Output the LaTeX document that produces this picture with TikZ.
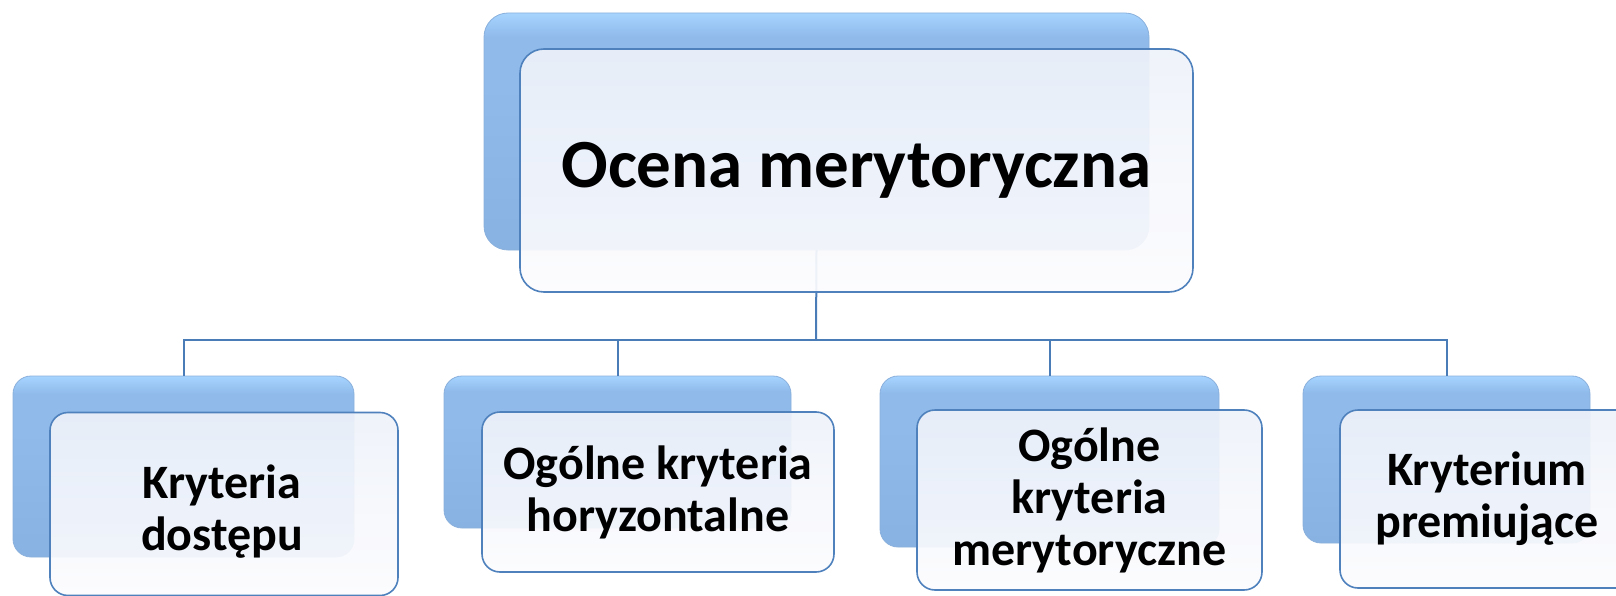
\documentclass[tikz,border=0pt]{standalone}
\usepackage{fontspec}
\setmainfont{Carlito}
\usepackage{tikz}
\definecolor{backtop}{HTML}{A6D4FF}
\definecolor{backmid}{HTML}{8FBAEA}
\definecolor{backbot}{HTML}{88B2E2}
\definecolor{backedge}{HTML}{8AB0DC}
\definecolor{fronttop}{HTML}{EEF2FA}
\definecolor{frontbot}{HTML}{FCFCFE}
\definecolor{frontedge}{HTML}{4F81BD}
\definecolor{linkcol}{HTML}{4A7DB8}
\pgfdeclareverticalshading{backshade}{100bp}{color(0bp)=(backbot); color(25bp)=(backbot);
  color(60bp)=(backmid); color(70bp)=(backmid); color(75bp)=(backtop); color(100bp)=(backtop)}

\tikzset{
  backbox/.style={rectangle, inner sep=0pt, outer sep=0pt, rounded corners=18pt,
    shading=backshade, draw=backedge, line width=0.8pt},
  frontbox/.style={rectangle, inner sep=0pt, outer sep=0pt, rounded corners=18pt,
    top color=fronttop, bottom color=frontbot, fill opacity=0.92, text opacity=1,
    draw=frontedge, line width=1.6pt, align=center,
    font=\bfseries\fontsize{48}{52}\selectfont},
  boxtext/.style={inner sep=0pt, align=center, font=\bfseries\fontsize{48}{52}\selectfont},
  link/.style={draw=linkcol, line width=2pt},
}

\begin{document}
\begin{tikzpicture}[x=1pt,y=-1pt]
    \useasboundingbox (0,0) rectangle (1616,596);
    % back boxes
    \node[backbox, rounded corners=24pt, minimum width=665pt, minimum height=237pt] (topback) at (816.5,131.5) {};
    \node[backbox, minimum width=341pt, minimum height=181pt] (b1back) at (183.5,466.5) {};
    \node[backbox, minimum width=347pt, minimum height=152pt] (b2back) at (617.5,452) {};
    \node[backbox, minimum width=339pt, minimum height=171pt] (b3back) at (1049.5,461.5) {};
    \node[backbox, minimum width=287pt, minimum height=167pt] (b4back) at (1446.5,459.5) {};
    % connectors
    \coordinate (hub) at (816,340);
    \draw[link] (topback.south) -- (hub);
    \foreach \b in {b1back,b2back,b3back,b4back}
        \draw[link] (hub) -| (\b.north);
    % front boxes
    \node[frontbox, rounded corners=24pt, minimum width=673pt, minimum height=243pt,
        font=\bfseries\fontsize{69}{80}\selectfont] (top) at (856.5,170.5) {Ocena merytoryczna};
    \node[frontbox, minimum width=348pt, minimum height=183pt] (b1) at (224,504) {};
    \node[boxtext] (b1text) at (222,512) {Kryteria\\dostępu};% sits low in its box
    \node[frontbox, minimum width=352pt, minimum height=160pt] (b2) at (658,492) {Ogólne kryteria\\horyzontalne};
    \node[frontbox, minimum width=345pt, minimum height=180pt] (b3) at (1089.5,500) {Ogólne\\kryteria\\merytoryczne};
    \node[frontbox, minimum width=294pt, minimum height=178pt] (b4) at (1487,499) {Kryterium\\premiujące};
\end{tikzpicture}
\end{document}
